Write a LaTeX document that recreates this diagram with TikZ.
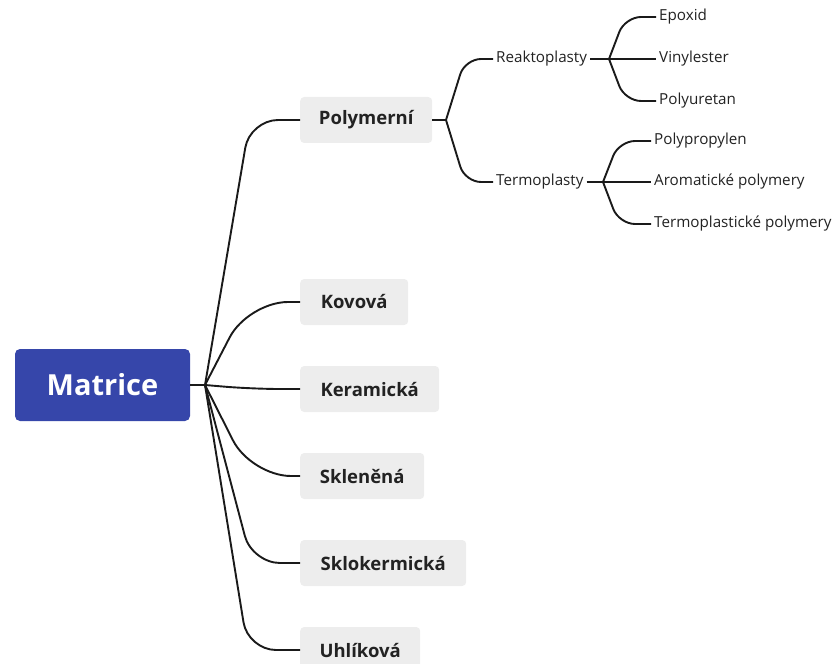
\documentclass[tikz,border=0pt]{standalone}
\usepackage{fontspec}
\setmainfont{Open Sans}
\usetikzlibrary{calc}
\definecolor{matblue}{HTML}{3646AA}
\definecolor{catgray}{HTML}{EDEDED}
\definecolor{textdark}{HTML}{222222}
\definecolor{linedark}{HTML}{1A1A1A}
\tikzset{
  root/.style={fill=matblue, rounded corners=5pt, text=white, minimum width=175pt, minimum height=72pt, inner sep=0pt, font=\bfseries\fontsize{29}{31}\selectfont},
  cat/.style={fill=catgray, rounded corners=4pt, anchor=west, minimum height=46pt, inner xsep=0pt, font=\bfseries\fontsize{18.5}{20}\selectfont, text=textdark},
  sub/.style={anchor=west, inner xsep=3pt, inner ysep=2pt, font=\fontsize{15.2}{17}\selectfont, text=textdark},
  conn/.style={line width=1.9pt, draw=linedark, rounded corners=28pt},
  connsoft/.style={conn, rounded corners=40pt},
  conns/.style={conn, rounded corners=16pt}
}
\begin{document}
\begin{tikzpicture}[x=1pt,y=-1pt]
\useasboundingbox (0,0) rectangle (834,663);
% root
\node[root] (mat) at (102.5,385) {Matrice};
\coordinate (j0) at (205,385);
% categories
\node[cat, minimum width=132pt] (pol) at (300,120) {Polymerní};
\node[cat, minimum width=108pt] (kov) at (300,302) {Kovová};
\node[cat, minimum width=139pt] (ker) at (300,389) {Keramická};
\node[cat, minimum width=124pt] (skl) at (300,476) {Skleněná};
\node[cat, minimum width=166pt] (sko) at (300,563) {Sklokermická};
\node[cat, minimum width=120pt] (uhl) at (300,650) {Uhlíková};
\draw[conn] (mat.east) -- (j0);
\draw[conn] (j0) -- (250,120) -- (pol.west);
\draw[connsoft] (j0) -- (248,302) -- (kov.west);
\draw[conn] (j0) -- (252,389) -- (ker.west);
\draw[connsoft] (j0) -- (251,476) -- (skl.west);
\draw[conn] (j0) -- (252,563) -- (sko.west);
\draw[conn] (j0) -- (248,650) -- (uhl.west);
% second level
\coordinate (j1) at (446,120);
\node[sub] (rea) at (493,59) {Reaktoplasty};
\node[sub] (ter) at (493,182) {Termoplasty};
\draw[conn] (pol.east) -- (j1);
\draw[conns] (j1) -- (465,59) -- (rea.west);
\draw[conns] (j1) -- (465,182) -- (ter.west);
% third level (Reaktoplasty)
\coordinate (j2) at (609,59);
\node[sub] (epo) at (656,17) {Epoxid};
\node[sub] (vin) at (656,59) {Vinylester};
\node[sub] (pur) at (656,101) {Polyuretan};
\draw[conn] (rea.east) -- (j2);
\draw[conns] (j2) -- (625,17) -- (epo.west);
\draw[conn] (j2) -- (vin.west);
\draw[conns] (j2) -- (625,101) -- (pur.west);
% third level (Termoplasty)
\coordinate (j3) at (603,182);
\node[sub] (ppr) at (651,141) {Polypropylen};
\node[sub] (aro) at (651,182) {Aromatické polymery};
\node[sub] (tpp) at (651,224) {Termoplastické polymery};
\draw[conn] (ter.east) -- (j3);
\draw[conns] (j3) -- (619,141) -- (ppr.west);
\draw[conn] (j3) -- (aro.west);
\draw[conns] (j3) -- (619,224) -- (tpp.west);
\end{tikzpicture}
\end{document}
